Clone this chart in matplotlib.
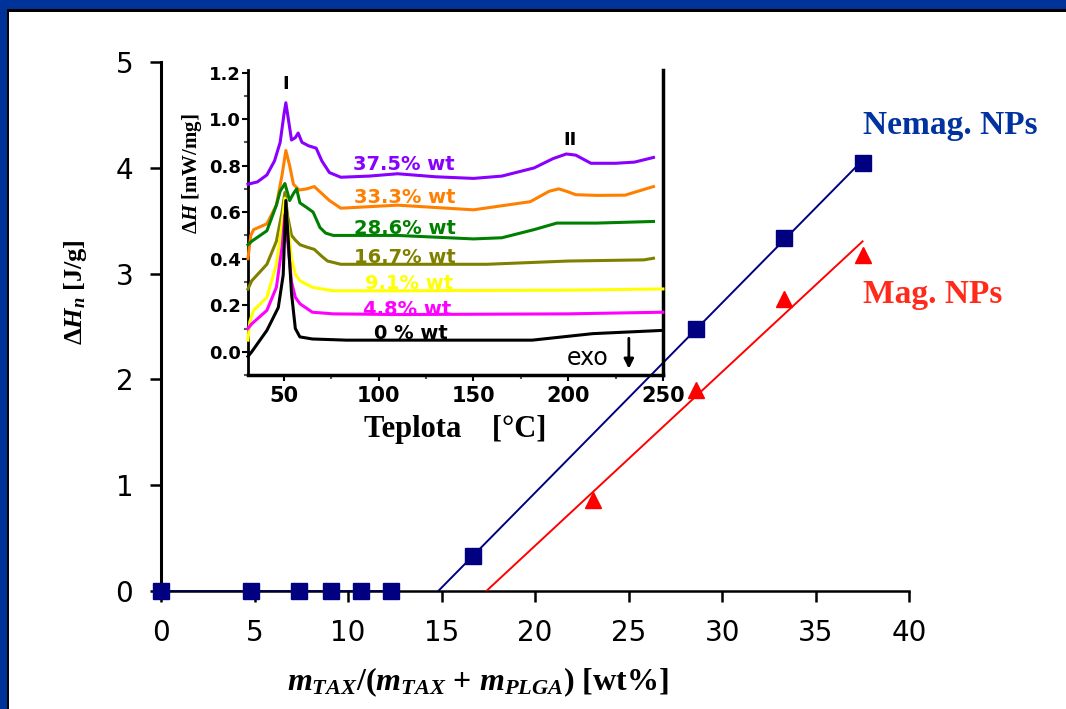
import numpy as np
import matplotlib
matplotlib.use("Agg")
import matplotlib.pyplot as plt
from matplotlib.patches import Rectangle

# main chart: heat of fusion vs drug content
nemag_x = [0, 4.8, 7.4, 9.1, 10.7, 12.3, 16.7, 28.6, 33.3, 37.5]
nemag_y = [0, 0, 0, 0, 0, 0, 0.33, 2.48, 3.34, 4.05]
mag_x = [23.1, 28.6, 33.3, 37.5]
mag_y = [0.86, 1.90, 2.76, 3.18]
main_xticks = [0, 5, 10, 15, 20, 25, 30, 35, 40]
main_yticks = [0, 1, 2, 3, 4, 5]

# inset: DSC curves (temperature in C, heat flow in mW/mg)
purple_t = [31, 36, 41, 45, 48, 50, 51, 52.5, 54, 56, 57.5, 59.5, 63, 67, 70, 74, 80, 95, 110, 130, 150, 165, 182, 192, 199, 204, 212, 225, 235, 245]
purple_v = [0.72, 0.73, 0.76, 0.82, 0.90, 1.02, 1.07, 0.99, 0.91, 0.92, 0.94, 0.90, 0.885, 0.875, 0.82, 0.77, 0.75, 0.755, 0.765, 0.752, 0.745, 0.755, 0.79, 0.83, 0.85, 0.845, 0.81, 0.81, 0.815, 0.835]
orange_t = [31, 32.5, 34, 41, 46, 49, 51, 53, 55, 58, 62, 66, 70, 74, 80, 110, 150, 180, 190, 195, 199, 204, 215, 230, 245]
orange_v = [0.40, 0.50, 0.525, 0.55, 0.63, 0.76, 0.865, 0.80, 0.72, 0.695, 0.70, 0.71, 0.68, 0.65, 0.617, 0.63, 0.61, 0.645, 0.69, 0.70, 0.69, 0.675, 0.672, 0.673, 0.71]
green_t = [31, 33, 41, 46, 48, 50.5, 53, 55, 56.7, 58.4, 62, 65.4, 69, 72, 76, 110, 150, 165, 182, 194, 215, 245]
green_v = [0.46, 0.475, 0.52, 0.63, 0.69, 0.723, 0.65, 0.68, 0.70, 0.64, 0.62, 0.60, 0.534, 0.51, 0.50, 0.50, 0.485, 0.49, 0.525, 0.553, 0.553, 0.56]
olive_t = [31, 33, 41, 46, 49, 50.5, 52, 54, 56, 58.5, 62, 66, 70, 73, 80, 110, 157, 200, 240, 245]
olive_v = [0.27, 0.305, 0.376, 0.475, 0.60, 0.685, 0.58, 0.50, 0.48, 0.46, 0.45, 0.44, 0.41, 0.39, 0.376, 0.376, 0.376, 0.39, 0.395, 0.402]
yellow_t = [31, 32, 34, 41, 46, 49, 50.5, 52, 54, 56, 58.5, 65, 76, 110, 200, 250]
yellow_v = [0.05, 0.13, 0.178, 0.234, 0.376, 0.55, 0.66, 0.55, 0.40, 0.333, 0.305, 0.277, 0.262, 0.262, 0.265, 0.27]
magenta_t = [31, 33, 41, 46, 49, 50.5, 52, 54, 56, 58.5, 65, 76, 110, 200, 250]
magenta_v = [0.10, 0.12, 0.178, 0.277, 0.45, 0.589, 0.47, 0.30, 0.234, 0.206, 0.17, 0.163, 0.16, 0.163, 0.17]
black_t = [31, 33, 41, 47, 49.6, 51, 52.5, 54, 56, 58.4, 65, 83, 150, 181, 213, 250]
black_v = [-0.02, 0.0, 0.092, 0.19, 0.33, 0.65, 0.45, 0.25, 0.10, 0.064, 0.055, 0.05, 0.05, 0.05, 0.078, 0.092]

curve_labels = ["37.5% wt", "33.3% wt", "28.6% wt", "16.7% wt", "9.1% wt", "4.8% wt", "0 % wt"]
label_t = [113, 114, 114, 114, 116, 115, 117]
label_v = [0.806, 0.664, 0.529, 0.404, 0.295, 0.18, 0.078]
curve_colors = ["#8a00ff", "#ff8000", "#008000", "#808000", "#ffff00", "#ff00ff", "#000000"]

inset_xticks = [50, 100, 150, 200, 250]
inset_yticks = [0.0, 0.2, 0.4, 0.6, 0.8, 1.0, 1.2]

plt.rcParams['mathtext.fontset'] = 'custom'
plt.rcParams['mathtext.rm'] = 'Liberation Serif:bold'
plt.rcParams['mathtext.it'] = 'Liberation Serif:bold:italic'
plt.rcParams['mathtext.bf'] = 'Liberation Serif:bold'

fig = plt.figure(figsize=(10.66, 7.09), dpi=100)
fig.patch.set_facecolor("white")

# blue frame on top and left edge with thin black line
blue = "#003399"
fig.add_artist(Rectangle((0, 1 - 9/709), 1, 9/709, transform=fig.transFigure, color=blue, lw=0))
fig.add_artist(Rectangle((0, 0), 7/1066, 1, transform=fig.transFigure, color=blue, lw=0))
fig.add_artist(Rectangle((7/1066, 1 - 12/709), 1, 3/709, transform=fig.transFigure, color="black", lw=0))
fig.add_artist(Rectangle((7/1066, 0), 2/1066, 1 - 9/709, transform=fig.transFigure, color="black", lw=0))

# ---- main axes ----
ax = fig.add_axes([0.151, 0.1664, 0.702, 0.746])
ax.set_xlim(0, 40)
ax.set_ylim(0, 5)
for s in ["top", "right"]:
    ax.spines[s].set_visible(False)
ax.spines["left"].set_linewidth(2.2)
ax.spines["bottom"].set_linewidth(1.8)
ax.set_xticks(main_xticks)
ax.set_yticks(main_yticks)
ax.tick_params(direction="out", length=8, width=1.8, labelsize=20, pad=12)
ax.tick_params(axis="y", pad=12)

# linear fits through the non-zero points
nx = np.array(nemag_x[6:]); ny = np.array(nemag_y[6:])
k1, q1 = np.polyfit(nx, ny, 1)
fx1 = np.linspace(-q1 / k1, 37.1, 50)
ax.plot(fx1, k1 * fx1 + q1, color="#000080", lw=1.4, zorder=3)
k2, q2 = np.polyfit(mag_x, mag_y, 1)
fx2 = np.linspace(-q2 / k2, 37.5, 50)
ax.plot(fx2, k2 * fx2 + q2, color="#ff0000", lw=1.4, zorder=3)
ax.plot([0, nemag_x[5]], [0, 0], color="#000080", lw=1.4, zorder=3)

ax.plot(nemag_x, nemag_y, ls="none", marker="s", ms=11, color="#000080", clip_on=False, zorder=5)
ax.plot(mag_x, mag_y, ls="none", marker="^", ms=12, color="#ff0000", clip_on=False, zorder=5)

ax.text(37.5, 4.4, "Nemag. NPs", color="#0033a0", fontsize=24, fontweight="bold", family="Liberation Serif",
        ha="left", va="center")
ax.text(37.5, 2.8, "Mag. NPs", color="#ff2a1a", fontsize=24, fontweight="bold", family="Liberation Serif",
        ha="left", va="center")

fig.text(0.448, 0.038, r"$m_{TAX}$/($m_{TAX}$ + $m_{PLGA}$) [wt%]", fontsize=23, fontweight="bold",
         family="Liberation Serif", ha="center", va="center")
fig.text(0.071, 0.588, r"$\Delta H_n$ [J/g]", fontsize=19, fontweight="bold", family="Liberation Serif",
         rotation=90, ha="center", va="center")

# ---- inset ----
ax2 = fig.add_axes([0.2326, 0.471, 0.3893, 0.430])
ax2.patch.set_alpha(0)
ax2.set_xlim(31, 250)
ax2.set_ylim(-0.085, 1.21)
ax2.spines["top"].set_visible(False)
ax2.spines["left"].set_linewidth(2)
ax2.spines["bottom"].set_linewidth(2.5)
ax2.spines["right"].set_linewidth(2.5)
ax2.set_xticks(inset_xticks)
ax2.set_xticks([75, 125, 175, 225], minor=True)
ax2.set_yticks(inset_yticks)
ax2.set_yticks([-0.1, 0.1, 0.3, 0.5, 0.7, 0.9, 1.1], minor=True)
ax2.set_xticklabels([str(v) for v in inset_xticks])
ax2.set_yticklabels(["%.1f" % v for v in inset_yticks])
ax2.tick_params(direction="out", length=4, width=1.5, labelsize=15, pad=4)
ax2.tick_params(which="minor", direction="out", length=3, width=1.5, color="#555555")
ax2.tick_params(axis="y", labelsize=13, pad=1)
for lbl in ax2.get_xticklabels() + ax2.get_yticklabels():
    lbl.set_fontweight("bold")

curves = [(purple_t, purple_v), (orange_t, orange_v), (green_t, green_v), (olive_t, olive_v),
          (yellow_t, yellow_v), (magenta_t, magenta_v), (black_t, black_v)]
for (t, v), c in zip(curves, curve_colors):
    ax2.plot(t, v, color=c, lw=2.2, zorder=3, clip_on=False)
for name, t, v, c in zip(curve_labels, label_t, label_v, curve_colors):
    ax2.text(t, v, name, color=c, fontsize=14, fontweight="bold", ha="center", va="center", zorder=2)

ax2.text(51, 1.15, "I", fontsize=13, fontweight="bold", ha="center", va="center")
ax2.text(201, 0.91, "II", fontsize=13, fontweight="bold", ha="center", va="center")
ax2.text(210, -0.025, "exo", fontsize=17, ha="center", va="center")
ax2.annotate("", xy=(232, -0.085), xytext=(232, 0.07),
             arrowprops=dict(arrowstyle="-|>", color="black", lw=2, mutation_scale=14))

ax2.set_xlabel("Teplota    [°C]", fontsize=22, fontweight="bold", family="Liberation Serif", labelpad=6)
ax2.text(-0.135, 0.66, r"$\Delta H$ [mW/mg]", transform=ax2.transAxes, fontsize=15, fontweight="bold",
         family="Liberation Serif", rotation=90, ha="center", va="center")

fig.savefig("out.png", dpi=100)
